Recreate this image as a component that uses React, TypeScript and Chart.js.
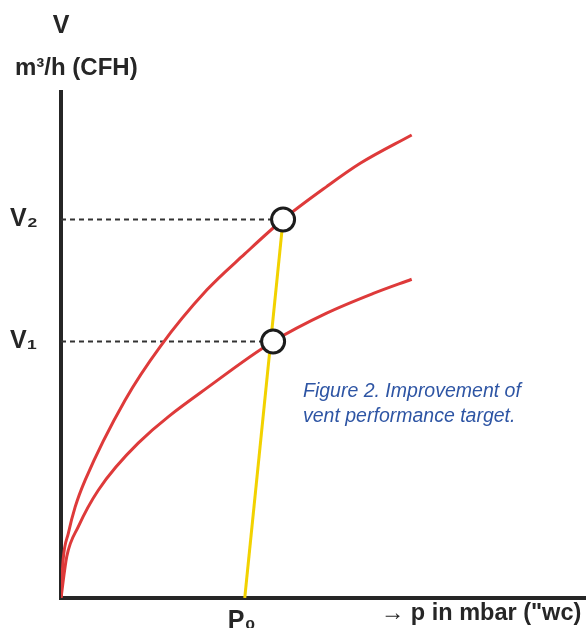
import React, { useEffect, useRef } from 'react';
import { Chart, registerables } from 'chart.js';

Chart.register(...registerables);

// Upper performance curve (improved vent): pressure p vs. flow V
const upperP = [0, 0.04, 0.14, 0.27, 0.46, 1.22, 1.89, 2.78, 3.5, 4.23, 5.06, 5.7, 6.68];
const upperV = [0, 0.75, 1.28, 1.8, 2.33, 3.91, 4.97, 6.09, 6.8, 7.48, 8.13, 8.59, 9.15];

// Lower performance curve (original vent)
const lowerP = [0, 0.11, 0.33, 0.71, 1.47, 2.99, 4.04, 5.06, 5.95, 6.68];
const lowerV = [0, 0.82, 1.41, 2.13, 3.06, 4.31, 5.07, 5.63, 6.02, 6.3];

// Operating points
const opP = [4.23, 4.04];
const opV = [7.48, 5.07];

// Tick values / labels
const yTickValues = [5.07, 7.48];
const yTickLabels = ['V\u2081', 'V\u2082'];
const xTickValues = [3.5];
const xTickLabels = ['P\u2080'];

// Yellow system line: from P0 on the axis up to the upper operating point
const sysP = [3.5, 4.23];
const sysV = [0, 7.48];

const RED = '#de3a3a';
const YELLOW = '#f2d200';
const DARK = '#262626';
const FONT = "'Liberation Sans', Arial, sans-serif";

export default function App() {
  const ref = useRef<HTMLCanvasElement>(null);

  useEffect(() => {
    document.body.style.margin = '0';
    const canvas = ref.current;
    if (!canvas) return;
    const pts = (xs: number[], ys: number[]) => xs.map((x, i) => ({ x, y: ys[i] }));

    const chart = new Chart(canvas, {
      type: 'scatter',
      data: {
        datasets: [
          {
            label: 'operating points',
            data: pts(opP, opV),
            showLine: false,
            pointRadius: 11.5,
            pointBorderWidth: 3,
            pointBorderColor: '#1c1c1c',
            pointBackgroundColor: '#ffffff',
          },
          {
            label: 'upper',
            data: pts(upperP, upperV),
            showLine: true,
            borderColor: RED,
            borderWidth: 3,
            pointRadius: 0,
            cubicInterpolationMode: 'monotone',
          },
          {
            label: 'lower',
            data: pts(lowerP, lowerV),
            showLine: true,
            borderColor: RED,
            borderWidth: 3,
            pointRadius: 0,
            cubicInterpolationMode: 'monotone',
          },
          {
            label: 'system',
            data: pts(sysP, sysV),
            showLine: true,
            borderColor: YELLOW,
            borderWidth: 3,
            pointRadius: 0,
          },
          {
            label: 'V2 guide',
            data: [{ x: 0, y: opV[0] }, { x: opP[0], y: opV[0] }],
            showLine: true,
            borderColor: '#333333',
            borderWidth: 2,
            borderDash: [5, 4],
            pointRadius: 0,
          },
          {
            label: 'V1 guide',
            data: [{ x: 0, y: opV[1] }, { x: opP[1], y: opV[1] }],
            showLine: true,
            borderColor: '#333333',
            borderWidth: 2,
            borderDash: [5, 4],
            pointRadius: 0,
          },
        ],
      },
      options: {
        animation: false,
        responsive: false,
        maintainAspectRatio: false,
        layout: { autoPadding: false, padding: { top: 92, left: 10, right: 0, bottom: 0 } },
        plugins: { legend: { display: false }, tooltip: { enabled: false } },
        scales: {
          x: {
            type: 'linear',
            min: 0,
            max: 10,
            grid: { display: false },
            border: { display: true, color: DARK, width: 4 },
            afterBuildTicks: (s: any) => {
              s.ticks = xTickValues.map((value) => ({ value }));
            },
            afterFit: (s: any) => {
              s.height = 30;
              s.paddingLeft = 0;
              s.paddingRight = 0;
            },
            ticks: {
              autoSkip: false,
              maxRotation: 0,
              padding: 0,
              labelOffset: -3,
              color: DARK,
              font: { family: FONT, size: 25, weight: 'bold' },
              callback: (_v: any, i: number) => xTickLabels[i],
            },
            title: {
              display: true,
              text: '\u2192 p in mbar ("wc)\u2009',
              align: 'end',
              color: DARK,
              font: { family: FONT, size: 23.5, weight: 'bold' },
              padding: { top: 0, bottom: 0 },
            },
          },
          y: {
            type: 'linear',
            min: 0,
            max: 10,
            grid: { display: false },
            border: { display: true, color: DARK, width: 4 },
            afterBuildTicks: (s: any) => {
              s.ticks = yTickValues.map((value) => ({ value }));
            },
            afterFit: (s: any) => {
              s.width = 51;
              s.paddingTop = 0;
              s.paddingBottom = 0;
            },
            ticks: {
              autoSkip: false,
              crossAlign: 'far',
              padding: 0,
              color: DARK,
              font: { family: FONT, size: 25, weight: 'bold' },
              callback: (_v: any, i: number) => yTickLabels[i],
            },
          },
        },
      },
    } as any);

    return () => chart.destroy();
  }, []);

  return (
    <div style={{ position: 'relative', width: 586, height: 628 }}>
      <canvas ref={ref} width={586} height={628} style={{ display: 'block' }} />
      <div
        style={{
          position: 'absolute',
          left: 61,
          top: 12,
          transform: 'translateX(-50%)',
          font: `bold 25px ${FONT}`,
          lineHeight: '25px',
          color: DARK,
          whiteSpace: 'nowrap',
        }}
      >
        V
      </div>
      <div
        style={{
          position: 'absolute',
          left: 15,
          top: 55,
          font: `bold 24px ${FONT}`,
          lineHeight: '24px',
          color: DARK,
          whiteSpace: 'nowrap',
        }}
      >
        m{'\u00B3'}/h (CFH)
      </div>
      <div
        style={{
          position: 'absolute',
          left: 303,
          top: 378,
          font: `italic 19.5px ${FONT}`,
          lineHeight: '25px',
          color: '#2e55a4',
          whiteSpace: 'nowrap',
        }}
      >
        Figure 2. Improvement of
        <br />
        vent performance target.
      </div>
    </div>
  );
}
